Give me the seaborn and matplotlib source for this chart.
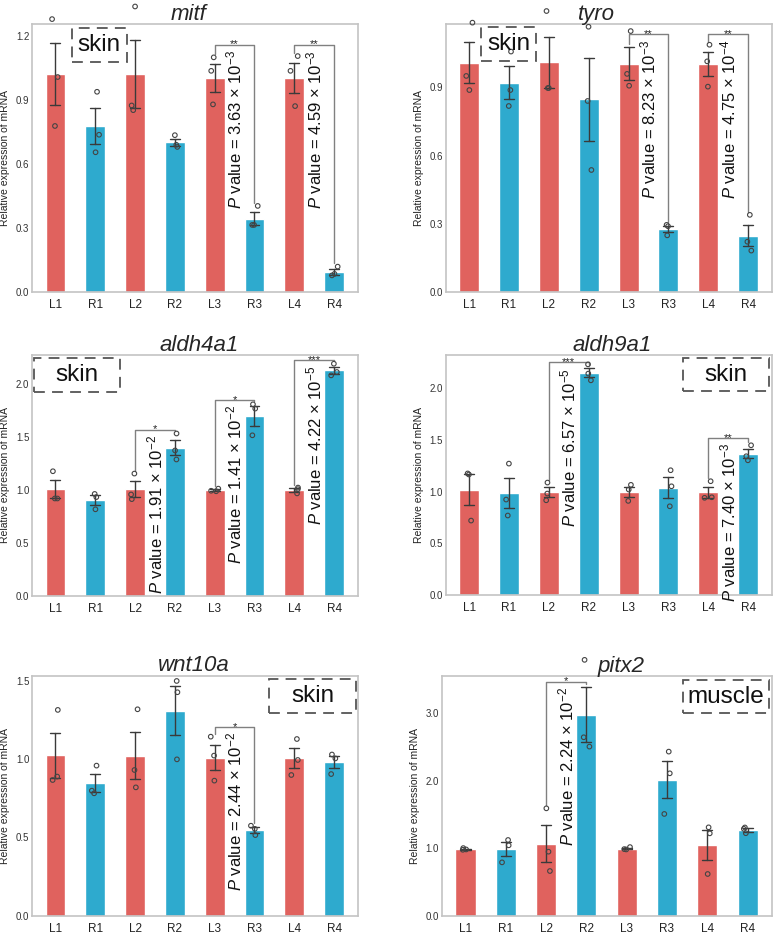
import numpy as np
import pandas as pd
import matplotlib
matplotlib.use('Agg')
import matplotlib.pyplot as plt
import seaborn as sns
from matplotlib.patches import Rectangle

# sample order and bar colours (left = red, right = blue)
samples = ['L1', 'R1', 'L2', 'R2', 'L3', 'R3', 'L4', 'R4']
bar_colors = ['#E0625E', '#2EAACE'] * 4

# three replicates per sample
mitf = [[1.278, 1.007, 0.778], [0.938, 0.737, 0.655], [1.337, 0.874, 0.852], [0.735, 0.690, 0.680],
        [1.099, 1.036, 0.879], [0.404, 0.315, 0.315], [1.105, 1.036, 0.871], [0.120, 0.079, 0.086]]
tyro = [[1.184, 0.950, 0.888], [1.057, 0.888, 0.818], [1.235, 0.897, 0.897], [1.166, 0.840, 0.537],
        [1.147, 0.959, 0.907], [0.296, 0.290, 0.250], [1.087, 1.014, 0.903], [0.340, 0.222, 0.183]]
aldh4a1 = [[1.174, 0.917, 0.917], [0.960, 0.930, 0.815], [1.152, 0.955, 0.911], [1.530, 1.370, 1.285],
           [1.010, 0.985, 0.990], [1.805, 1.765, 1.513], [1.020, 1.005, 0.965], [2.188, 2.110, 2.078]]
aldh9a1 = [[1.175, 1.165, 0.720], [1.270, 0.923, 0.769], [1.087, 0.981, 0.916], [2.228, 2.139, 2.074],
           [1.065, 1.020, 0.910], [1.206, 1.051, 0.858], [1.100, 0.945, 0.940], [1.447, 1.341, 1.302]]
wnt10a = [[1.315, 0.889, 0.867], [0.959, 0.799, 0.782], [1.319, 0.931, 0.820], [1.500, 1.428, 0.999],
          [1.144, 1.023, 0.863], [0.575, 0.555, 0.515], [1.129, 0.995, 0.899], [1.030, 1.005, 0.905]]
pitx2 = [[1.005, 0.985, 0.980], [1.125, 1.046, 0.794], [1.593, 0.952, 0.666], [3.789, 2.644, 2.506],
         [1.020, 0.990, 0.985], [2.432, 2.111, 1.510], [1.312, 1.223, 0.622], [1.310, 1.290, 1.225]]

genes = ['mitf', 'tyro', 'aldh4a1', 'aldh9a1', 'wnt10a', 'pitx2']
gene_data = [mitf, tyro, aldh4a1, aldh9a1, wnt10a, pitx2]
tissues = ['skin', 'skin', 'skin', 'skin', 'skin', 'muscle']
y_max = [1.255, 1.178, 2.27, 2.32, 1.534, 3.55]
y_ticks = [[0, 0.3, 0.6, 0.9, 1.2], [0, 0.3, 0.6, 0.9], [0, 0.5, 1.0, 1.5, 2.0],
           [0, 0.5, 1.0, 1.5, 2.0], [0, 0.5, 1.0, 1.5], [0, 1, 2, 3]]

# significance: (left, right, bracket height, stars, p mantissa, p exponent)
comparisons = {
    'mitf': [('L3', 'R3', 1.159, '**', '3.63', '-3'), ('L4', 'R4', 1.159, '**', '4.59', '-3')],
    'tyro': [('L3', 'R3', 1.133, '**', '8.23', '-3'), ('L4', 'R4', 1.133, '**', '4.75', '-4')],
    'aldh4a1': [('L2', 'R2', 1.567, '*', '1.91', '-2'), ('L3', 'R3', 1.849, '*', '1.41', '-2'),
                ('L4', 'R4', 2.22, '***', '4.22', '-5')],
    'aldh9a1': [('L2', 'R2', 2.25, '***', '6.57', '-5'), ('L4', 'R4', 1.521, '**', '7.40', '-3')],
    'wnt10a': [('L3', 'R3', 1.208, '*', '2.44', '-2')],
    'pitx2': [('L2', 'R2', 3.468, '*', '2.24', '-2')],
}

# layout (figure fractions), title x and tissue box (axes fractions)
axes_pos = [[0.0413, 0.6884, 0.4212, 0.286], [0.5758, 0.6884, 0.4216, 0.286],
            [0.0413, 0.3649, 0.4212, 0.2566], [0.5758, 0.3655, 0.4216, 0.2562],
            [0.0413, 0.0238, 0.4212, 0.2559], [0.5707, 0.0234, 0.4264, 0.2559]]
title_x = [0.48, 0.463, 0.512, 0.511, 0.495, 0.543]
box_pos = [[0.122, 0.86, 0.29, 0.986], [0.108, 0.862, 0.277, 0.988],
           [0.006, 0.848, 0.27, 0.986], [0.726, 0.848, 0.99, 0.986],
           [0.728, 0.843, 0.994, 0.985], [0.731, 0.844, 0.993, 0.985]]

sns.set_style('white')
plt.rcParams['font.family'] = ['Liberation Sans', 'DejaVu Sans']
plt.rcParams['mathtext.fontset'] = 'custom'
plt.rcParams['mathtext.rm'] = 'Liberation Sans'
plt.rcParams['mathtext.it'] = 'Liberation Sans:italic'

np.random.seed(7)  # jitter of the replicate points only

fig = plt.figure(figsize=(7.74, 9.38), dpi=100)

for k, gene in enumerate(genes):
    reps = gene_data[k]
    df = pd.DataFrame({'sample': np.repeat(samples, 3),
                       'value': np.concatenate(reps)})
    ax = fig.add_axes(axes_pos[k])

    sns.barplot(data=df, x='sample', y='value', hue='sample', order=samples, hue_order=samples,
                palette=bar_colors, saturation=1, width=0.5, errorbar='se', capsize=0.25,
                err_kws={'color': '#3a3a3a', 'linewidth': 1}, legend=False, ax=ax)
    sns.stripplot(data=df, x='sample', y='value', order=samples, jitter=0.1, size=3.3,
                  color='#444444', ax=ax)
    for coll in ax.collections:
        coll.set_facecolor('none')
        coll.set_edgecolor('#444444')
        coll.set_linewidth(0.8)
        coll.set_clip_on(False)
        coll.set_zorder(3)

    ax.set_xlim(-0.59, 7.6)
    ax.set_ylim(0, y_max[k])
    ax.set_yticks(y_ticks[k])
    ax.set_yticklabels([f'{t:.1f}' for t in y_ticks[k]])
    ax.tick_params(axis='x', labelsize=8.5, length=0, pad=5, colors='#222222')
    ax.tick_params(axis='y', labelsize=7, length=0, pad=2, colors='#333333')
    ax.set_xlabel('')
    ax.set_ylabel('Relative expression of mRNA', fontsize=7.5, color='#222222')
    ax.set_title(gene, style='italic', fontsize=16, pad=3, x=title_x[k])
    for sp in ax.spines.values():
        sp.set_color('#c4c4c4')
        sp.set_linewidth(1.2)

    # tissue label in dashed box
    x0, y0, x1, y1 = box_pos[k]
    ax.add_patch(Rectangle((x0, y0), x1 - x0, y1 - y0, transform=ax.transAxes, fill=False,
                           edgecolor='#555555', linestyle=(0, (6, 4)), linewidth=1.3, clip_on=False))
    ax.text((x0 + x1) / 2, (y0 + y1) / 2, tissues[k], transform=ax.transAxes,
            ha='center', va='center', fontsize=17.5, color='#111111')

    # significance brackets with rotated p values
    pad = 0.012 * y_max[k]
    for left, right, top, stars, mant, expo in comparisons[gene]:
        i, j = samples.index(left), samples.index(right)
        legs = []
        for g in (i, j):
            v = np.array(reps[g])
            lb = v.max() + pad
            if lb >= top:
                lb = v.mean() + v.std(ddof=1) / np.sqrt(len(v)) + pad
            legs.append(lb)
        ax.plot([i, i, j, j], [legs[0], top, top, legs[1]], color='#808080', lw=1, clip_on=False)
        ax.text((i + j) / 2, top, stars, ha='center', va='center', fontsize=8, color='#222222')
        ax.annotate(f'$P$ value = {mant} × $10^{{{expo}}}$', xy=((i + j) / 2, top),
                    xytext=(0, -4), textcoords='offset points', rotation=90,
                    ha='center', va='top', fontsize=12, color='#111111')

fig.savefig('out.png', dpi=100)
